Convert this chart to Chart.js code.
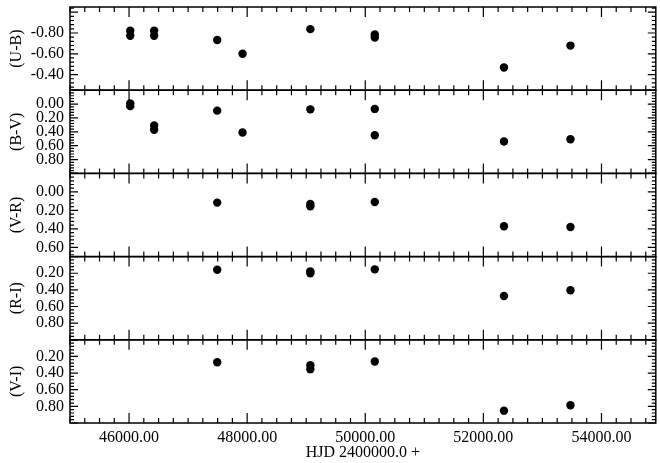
<!DOCTYPE html>
<html>
<head>
<meta charset="utf-8">
<script src="https://cdn.jsdelivr.net/npm/chart.js@4"></script>
<style>
  html, body { margin: 0; padding: 0; background: #fff; }
  #wrap { width: 660px; height: 463px; position: relative; }
</style>
</head>
<body>
<div id="wrap"><canvas id="c"></canvas></div>
<script>
// ---- data ----
const hjdUB = [46020, 46020, 46425, 46425, 47493, 47922, 49070, 50161, 50161, 52349, 53475];
const ub    = [-0.822, -0.774, -0.822, -0.774, -0.733, -0.601, -0.837, -0.785, -0.756, -0.468, -0.679];

const hjdBV = [46020, 46020, 46425, 46425, 47493, 47922, 49070, 50161, 50161, 52349, 53475];
const bv    = [-0.01, 0.03, 0.31, 0.37, 0.095, 0.41, 0.076, 0.07, 0.45, 0.54, 0.507];

const hjdRed = [47493, 49070, 49070, 50161, 52349, 53475];
const vr     = [0.116, 0.131, 0.156, 0.109, 0.371, 0.379];
const ri     = [0.158, 0.177, 0.201, 0.153, 0.473, 0.405];
const vi     = [0.269, 0.305, 0.353, 0.261, 0.852, 0.787];

// tick labels
const xTicks  = [46000, 48000, 50000, 52000, 54000];
const ubTicks = [-0.8, -0.6, -0.4];
const bvTicks = [0.0, 0.2, 0.4, 0.6, 0.8];
const vrTicks = [0.0, 0.2, 0.4, 0.6];
const riTicks = [0.2, 0.4, 0.6, 0.8];
const viTicks = [0.2, 0.4, 0.6, 0.8];

const panelTitles = ['(U-B)', '(B-V)', '(V-R)', '(R-I)', '(V-I)'];
const xTitle = 'HJD 2400000.0 +';

// ---- chart ----
const FAMILY = '"Liberation Serif", "Times New Roman", serif';
const FONT = { family: FAMILY, size: 16 };
Chart.defaults.color = '#000';

function pts(xs, ys) { return xs.map((x, i) => ({ x: x, y: ys[i] })); }
function noPad(s) { s.paddingTop = 0; s.paddingBottom = 0; s.paddingLeft = 0; s.paddingRight = 0; }

function yAxis(title, min, max) {
  return {
    type: 'linear', position: 'left', stack: 'panels', stackWeight: 1,
    reverse: true, min: min, max: max,
    grid: { display: false, drawTicks: false }, border: { display: false },
    ticks: { display: false },
    afterFit: s => { s.width = 70; noPad(s); },
    title: { display: true, text: title, font: FONT, color: '#000', padding: { top: 7, bottom: 0 } }
  };
}

const panels = [
  ['yUB', ubTicks], ['yBV', bvTicks], ['yVR', vrTicks], ['yRI', riTicks], ['yVI', viTicks]
];

// panel frames, inward major/minor ticks and y tick labels, placed through the chart's scales
const frames = {
  id: 'frames',
  afterDatasetsDraw(chart) {
    const ctx = chart.ctx;
    const xs = chart.scales.x;
    const L = chart.chartArea.left, R = chart.chartArea.right;
    ctx.save();
    ctx.strokeStyle = '#000';
    panels.forEach(([id, labels]) => {
      const s = chart.scales[id];
      const T = s.top, B = s.bottom;
      ctx.lineWidth = 1.5;
      ctx.strokeRect(L, T, R - L, B - T);
      ctx.lineWidth = 1.2;
      ctx.beginPath();
      for (let v = 45000; v <= xs.max + 1e-6; v += 250) {
        const px = xs.getPixelForValue(v);
        if (px < L - 0.5 || px > R + 0.5) continue;
        const len = (v % 2000 === 0) ? 10 : 5;
        ctx.moveTo(px, T); ctx.lineTo(px, T + len);
        ctx.moveTo(px, B); ctx.lineTo(px, B - len);
      }
      const lo = Math.min(s.min, s.max), hi = Math.max(s.min, s.max);
      const step = 0.04;
      for (let k = Math.ceil(lo / step - 1e-6); k * step <= hi + 1e-6; k++) {
        const py = s.getPixelForValue(k * step);
        const len = (Math.abs(k % 5) === 0) ? 8 : 4;
        ctx.moveTo(L, py); ctx.lineTo(L + len, py);
        ctx.moveTo(R, py); ctx.lineTo(R - len, py);
      }
      ctx.stroke();
      // tick labels
      ctx.font = '16px ' + FAMILY;
      ctx.fillStyle = '#000';
      ctx.textAlign = 'right';
      ctx.textBaseline = 'middle';
      labels.forEach(v => ctx.fillText(v.toFixed(2), L - 6, s.getPixelForValue(v)));
    });
    ctx.restore();
  }
};

const ds = (data, axis) => ({
  data: data, yAxisID: axis,
  pointRadius: 4.2, backgroundColor: '#000', borderWidth: 0
});

new Chart(document.getElementById('c'), {
  type: 'scatter',
  data: {
    datasets: [
      ds(pts(hjdUB, ub), 'yUB'),
      ds(pts(hjdBV, bv), 'yBV'),
      ds(pts(hjdRed, vr), 'yVR'),
      ds(pts(hjdRed, ri), 'yRI'),
      ds(pts(hjdRed, vi), 'yVI')
    ]
  },
  options: {
    responsive: true, maintainAspectRatio: false, animation: false,
    layout: { padding: { top: 7, right: 4, left: 0, bottom: 0 } },
    plugins: { legend: { display: false }, tooltip: { enabled: false } },
    scales: {
      x: {
        type: 'linear', position: 'bottom', min: 45000, max: 54920,
        grid: { display: false, drawTicks: false }, border: { display: false },
        ticks: { font: FONT, padding: 5, color: '#000', maxRotation: 0, autoSkip: false,
                 callback: v => v.toFixed(2) },
        afterBuildTicks: s => { s.ticks = xTicks.map(v => ({ value: v })); },
        afterFit: s => { s.height = 40; noPad(s); },
        title: { display: true, text: xTitle, font: FONT, color: '#000', padding: { top: 0, bottom: 1 } }
      },
      yVI: yAxis(panelTitles[4], 0.0, 1.0),
      yRI: yAxis(panelTitles[3], 0.0, 1.0),
      yVR: yAxis(panelTitles[2], -0.2, 0.7),
      yBV: yAxis(panelTitles[1], -0.2, 1.0),
      yUB: yAxis(panelTitles[0], -1.05, -0.25)
    }
  },
  plugins: [frames]
});
</script>
</body>
</html>
